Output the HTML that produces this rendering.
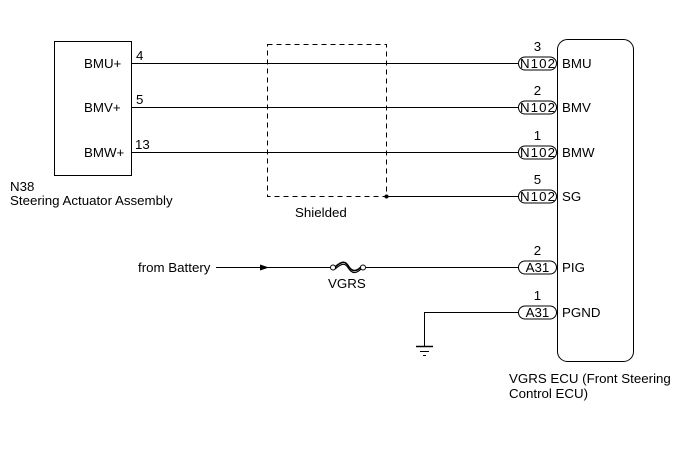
<!DOCTYPE html>
<html><head><style>
body{margin:0;background:#fff}
svg text{font-family:"Liberation Sans",Arial,sans-serif;font-size:13.3px;fill:#000}
</style></head><body>
<svg width="691" height="465" viewBox="0 0 691 465" xmlns="http://www.w3.org/2000/svg">
<g stroke="#000" fill="none" stroke-width="1">
<rect x="54.5" y="41.5" width="77" height="134"/>
<rect x="557.5" y="39.5" width="76" height="322" rx="10"/>
<rect x="267.5" y="44.5" width="119" height="152" stroke-dasharray="5,4"/>
<line x1="131" y1="63.5" x2="518" y2="63.5"/>
<line x1="131" y1="107.5" x2="518" y2="107.5"/>
<line x1="131" y1="152.5" x2="518" y2="152.5"/>
<line x1="386" y1="196.5" x2="518" y2="196.5"/>
<line x1="216" y1="267.5" x2="330" y2="267.5"/>
<line x1="366" y1="267.5" x2="518" y2="267.5"/>
<path d="M335,267 C342,261 345,261 348,265.5 C352,272 356,272 361,267" stroke-width="1.6"/>
<path d="M335,269 C342,263 345,263 348,267.5 C352,274 356,274 361,269" stroke-width="1.2"/>
<circle cx="333" cy="267.5" r="2.5" fill="#fff"/>
<circle cx="363" cy="267.5" r="2.5" fill="#fff"/>
<polyline points="518,312.5 424.5,312.5 424.5,346"/>
<line x1="416" y1="346.5" x2="433" y2="346.5" stroke-width="1.5"/>
<line x1="420" y1="351.5" x2="429" y2="351.5"/>
<line x1="423" y1="355.5" x2="426" y2="355.5"/>
<rect x="518.5" y="57" width="38" height="13" rx="6.5"/>
<rect x="518.5" y="101" width="38" height="13" rx="6.5"/>
<rect x="518.5" y="146" width="38" height="13" rx="6.5"/>
<rect x="518.5" y="190" width="38" height="13" rx="6.5"/>
<rect x="518.5" y="261" width="38" height="13" rx="6.5"/>
<rect x="518.5" y="306" width="38" height="13" rx="6.5"/>
</g>
<circle cx="386.5" cy="196.5" r="2" fill="#000"/>
<polygon points="260,264.5 269,267.5 260,270.5" fill="#000"/>
<text x="84" y="68">BMU+</text>
<text x="84" y="112">BMV+</text>
<text x="84" y="157">BMW+</text>
<text x="136" y="60">4</text>
<text x="136" y="104">5</text>
<text x="135" y="149">13</text>
<text x="10" y="191">N38</text>
<text x="10" y="205">Steering Actuator Assembly</text>
<text x="295" y="217">Shielded</text>
<text x="138" y="272">from Battery</text>
<text x="328" y="288">VGRS</text>
<g text-anchor="middle">
<text x="537.5" y="68" textLength="35">N102</text><text x="537.5" y="51">3</text>
<text x="537.5" y="112" textLength="35">N102</text><text x="537.5" y="95">2</text>
<text x="537.5" y="157" textLength="35">N102</text><text x="537.5" y="140">1</text>
<text x="537.5" y="201" textLength="35">N102</text><text x="537.5" y="184">5</text>
<text x="537.5" y="272">A31</text><text x="537.5" y="255">2</text>
<text x="537.5" y="317">A31</text><text x="537.5" y="300">1</text>
</g>
<text x="562" y="68">BMU</text>
<text x="562" y="112">BMV</text>
<text x="562" y="157">BMW</text>
<text x="562" y="201">SG</text>
<text x="562" y="272">PIG</text>
<text x="562" y="317">PGND</text>
<text x="509" y="383">VGRS ECU (Front Steering</text>
<text x="509" y="398">Control ECU)</text>
</svg>
</body></html>
